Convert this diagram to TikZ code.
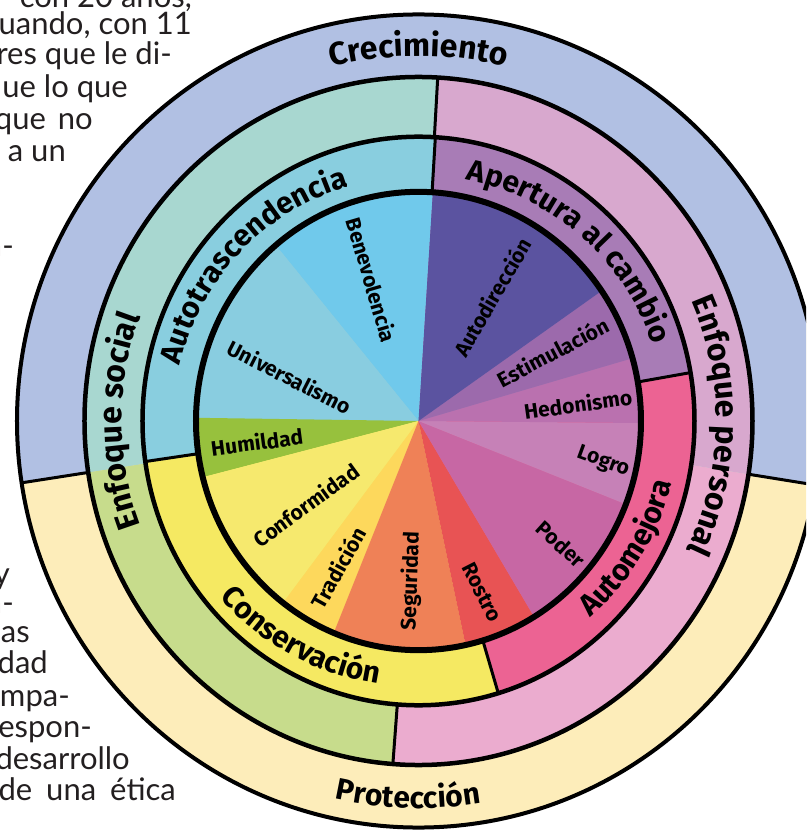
\documentclass[tikz,border=0pt]{standalone}
\usepackage{fontspec}
\setmainfont{Fira Sans}
\newfontfamily\pagefont{Lato}
\usetikzlibrary{decorations.text}
\definecolor{crec}{HTML}{B1C0E3}
\definecolor{prot}{HTML}{FDEDBA}
\definecolor{socup}{HTML}{A8D7D0}
\definecolor{soclo}{HTML}{C7DC8C}
\definecolor{perup}{HTML}{D8A8CE}
\definecolor{perlo}{HTML}{EBACCF}
\definecolor{autotr}{HTML}{89CEDF}
\definecolor{apert}{HTML}{A87CB6}
\definecolor{automej}{HTML}{EC6393}
\definecolor{conserv}{HTML}{F5E962}
\definecolor{cbene}{HTML}{70C9EB}
\definecolor{cuniv}{HTML}{89CDE0}
\definecolor{chumi}{HTML}{97C13D}
\definecolor{cconf}{HTML}{F6E96E}
\definecolor{ctrad}{HTML}{FDD85C}
\definecolor{csegu}{HTML}{EF8157}
\definecolor{crost}{HTML}{E85354}
\definecolor{cpode}{HTML}{C767A4}
\definecolor{clogr}{HTML}{C681B7}
\definecolor{chedo}{HTML}{BA71AF}
\definecolor{cesti}{HTML}{9C6AAC}
\definecolor{cautd}{HTML}{5B53A0}
\definecolor{pagetxt}{HTML}{231F20}
\newcommand\mysector[4]{\fill[#1] (0,0) -- (#2:#4) arc[start angle=#2, end angle=#3, radius=#4] -- cycle;}
\begin{document}
\begin{tikzpicture}[x=1pt,y=1pt,
  sepline/.style={line width=3pt},
  ringline/.style={line width=4.5pt},
  lbl/.style={inner sep=0pt, font=\bfseries\fontsize{21}{21}\selectfont},
  pg/.style={anchor=base east, inner sep=0pt, text=pagetxt, font=\pagefont\fontsize{31}{31}\selectfont},
  bigtxt/.style={decorate, decoration={text along path, text align=center,
     text={|\bfseries\fontsize{30}{30}\selectfont|#1}}},
  hugetxt/.style={decorate, decoration={text along path, text align=center,
     text={|\bfseries\fontsize{32}{32}\selectfont|#1}}}]
\useasboundingbox (-418.5,-409) rectangle (387.5,421);
\clip (-418.5,-409) rectangle (387.5,421);
% ---------- rings (slightly taller than wide, as in the reference)
\begin{scope}[yscale=1.03]
  \begin{scope}
    \clip (0,0) ellipse [x radius=401.5, y radius=394.7];
    \fill[prot] (0,0) ellipse [x radius=401.5, y radius=394.7];
    \fill[crec] (0,0) -- (-8.9:700) -- (45:700) -- (90:700) -- (135:700) -- (188.6:700) -- cycle;
  \end{scope}
  % enfoque ring
  \mysector{socup}{86.7}{188.6}{334}
  \mysector{soclo}{188.6}{265.6}{334}
  \mysector{perlo}{265.6}{351.1}{334}
  \mysector{perup}{-8.9}{86.7}{334}
  % middle ring
  \mysector{autotr}{86.5}{188.2}{276}
  \mysector{conserv}{188.2}{286.8}{276}
  \mysector{automej}{-73.2}{9.8}{276}
  \mysector{apert}{9.8}{86.5}{276}
  % inner pie
  \mysector{cbene}{86.3}{129.9}{222.5}
  \mysector{cuniv}{129.9}{179.2}{222.5}
  \mysector{chumi}{179.2}{194.2}{222.5}
  \mysector{cconf}{194.2}{232.5}{222.5}
  \mysector{ctrad}{232.5}{247.6}{222.5}
  \mysector{csegu}{247.6}{282.2}{222.5}
  \mysector{crost}{282.2}{301.3}{222.5}
  \mysector{cpode}{301.3}{338.7}{222.5}
  \mysector{clogr}{338.7}{359.5}{222.5}
  \mysector{chedo}{359.5}{375.9}{222.5}
  \mysector{cesti}{15.9}{34.6}{222.5}
  \mysector{cautd}{34.6}{86.3}{222.5}
  % separators
  \draw[sepline] (188.6:334) -- (188.6:402);
  \draw[sepline] (-8.9:334) -- (-8.9:402);
  \draw[sepline] (86.7:276) -- (86.7:334);
  \draw[sepline] (265.6:276) -- (265.6:334);
  \draw[sepline] (86.5:222.5) -- (86.5:276);
  \draw[sepline] (9.8:222.5) -- (9.8:276);
  \draw[sepline] (-73.2:222.5) -- (-73.2:276);
  \draw[sepline] (188.2:222.5) -- (188.2:276);
  % circles
  \draw[line width=4pt] (0,0) ellipse [x radius=401.5, y radius=394.7];
  \draw[ringline] (0,0) circle [radius=334];
  \draw[ringline] (0,0) circle [radius=276];
  \draw[line width=6pt] (0,0) circle [radius=222.5];
\end{scope}
% ---------- curved labels
\path[hugetxt=Crecimiento] (150:365) arc[start angle=150, end angle=30, radius=365];
\path[bigtxt=Protección] (208.4:387) arc[start angle=208.4, end angle=328.4, radius=387];
\path[hugetxt=Enfoque social] (245:297) arc[start angle=245, end angle=115, radius=297];
\path[hugetxt=Enfoque personal] (64:298) arc[start angle=64, end angle=-66, radius=298];
\path[bigtxt=Autotrascendencia] (200:245) arc[start angle=200, end angle=73.4, radius=245];
\path[bigtxt=Apertura al cambio] (110:246) arc[start angle=110, end angle=-13, radius=246];
\path[bigtxt=Automejora] (-80:261) arc[start angle=-80, end angle=17.4, radius=261];
\path[bigtxt=Conservación] (190:266) arc[start angle=190, end angle=293, radius=266];
% ---------- value labels
\node[lbl, rotate=-73.6] (bene) at (-46.5,141) {Benevolencia};
\node[lbl, rotate=-27] (univ) at (-128.5,44) {Universalismo};
\node[lbl, rotate=7.5] (humi) at (-161.5,-21) {Humildad};
\node[lbl, rotate=36] (conf) at (-112.5,-84) {Conformidad};
\node[lbl, rotate=61] (trad) at (-80.5,-147) {Tradición};
\node[lbl, rotate=88] (segu) at (-7.5,-160) {Seguridad};
\node[lbl, rotate=-63] (rost) at (63.5,-171) {Rostro};
\node[lbl, rotate=-42] (pode) at (142.5,-123) {Poder};
\node[lbl, rotate=-20] (logr) at (184.5,-41) {Logro};
\node[lbl, rotate=8] (hedo) at (159.5,17) {Hedonismo};
\node[lbl, rotate=28] (esti) at (134.5,69) {Estimulación};
\node[lbl, rotate=60] (autd) at (73.5,124) {Autodirección};
% ---------- surrounding page text
\node[pg] (p1) at (-226.5,413) {con 20 años,};
\node[pg] (p2) at (-226.5,386) {uando, con 11};
\node[pg] (p3) at (-246.5,356) {res que le di-};
\node[pg] (p4) at (-290.5,323) {ue lo que};
\node[pg] (p5) at (-325.5,291) {que\hspace{12pt}no};
\node[pg] (p6) at (-352.5,259) {r a un};
\node[pg] (p7) at (-404.5,164) {n-};
\node[pg] (p8) at (-408.5,-163) {y};
\node[pg] (p9) at (-404.5,-192) {n-};
\node[pg] (p10) at (-388.5,-221) {as};
\node[pg] (p11) at (-370.5,-252) {dad};
\node[pg] (p12) at (-348.5,-285) {mpa-};
\node[pg] (p13) at (-326.5,-316) {respon-};
\node[pg] (p14) at (-288.5,-348) {desarrollo};
\node[pg] (p15) at (-242.5,-379) {de\hspace{14pt}una\hspace{14pt}ética};
\end{tikzpicture}
\end{document}
